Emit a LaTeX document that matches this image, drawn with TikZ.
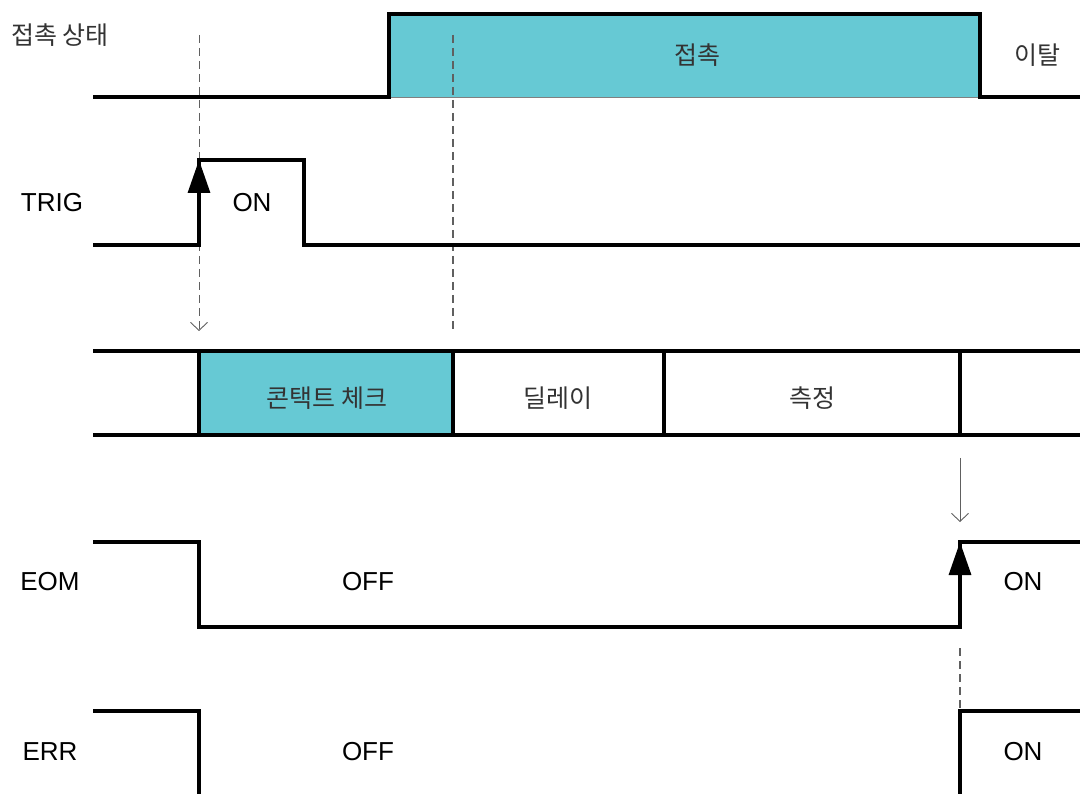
\documentclass[tikz,border=0pt]{standalone}
\usepackage{fontspec}
\setmainfont{Liberation Sans}
\newfontfamily\kor{Noto Sans CJK KR}
\usetikzlibrary{arrows.meta}
\definecolor{contactteal}{RGB}{102,201,212}
\definecolor{labelgray}{RGB}{51,51,51}

\begin{document}
\begin{tikzpicture}[
        x=1pt, y=-1pt,
        sig/.style={line width=3.2pt, line join=miter},
        edgeup/.style={line width=3.2pt, -{Triangle[length=33pt, width=22pt]}},
        guide/.style={gray!75!black, line width=1.1pt, dash pattern=on 8pt off 5pt},
        cue/.style={gray!75!black, line width=0.9pt, -{Straight Barb[length=8pt, width=17pt]}},
        lat/.style={font=\fontsize{26}{26}\selectfont, inner sep=0pt},
        kr/.style={font=\kor\fontsize{25}{25}\selectfont, text=labelgray, inner sep=0pt}
    ]
    \useasboundingbox (0,0) rectangle (1080,794);

    % Contact state: 접촉 window 389-980
    \fill[contactteal] (389,14) rectangle (980,97);
    \draw[gray, line width=0.8pt] (389,97) -- (980,97);
    \draw[sig] (93,97) -- (389,97) -- (389,14) -- (980,14) -- (980,97) -- (1080,97);
    \node[kr] (stateLbl) at (60,35) {접촉 상태};
    \node[kr] (contact) at (697,55) {접촉};
    \node[kr] (release) at (1037,55) {이탈};

    % Guide lines from TRIG rise and end of contact check
    \coordinate (trigTop) at (199,35);
    \coordinate (trigBot) at (199,331);
    \coordinate (chkTop) at (453,35);
    \coordinate (chkBot) at (453,331);
    \draw[guide, cue] (trigTop) -- (trigBot);
    \draw[guide] (chkTop) -- (chkBot);

    % TRIG
    \draw[sig] (93,245) -- (199,245) -- (199,160) -- (304,160) -- (304,245) -- (1080,245);
    \draw[edgeup] (199,245) -- (199,160);
    \node[lat] (trig) at (52,203) {TRIG};
    \node[lat] (trigOn) at (252,203) {ON};

    % Sequence phases
    \fill[contactteal] (199,351) rectangle (453,435);
    \draw[sig] (93,351) -- (1080,351);
    \draw[sig] (93,435) -- (1080,435);
    \foreach \x in {199, 453, 664, 960}
        \draw[sig] (\x,351) -- (\x,435);
    \node[kr] (check) at (327,398) {콘택트 체크};
    \node[kr] (delay) at (558,398) {딜레이};
    \node[kr] (measure) at (812,398) {측정};

    % End of measurement cue
    \coordinate (endTop) at (960,458);
    \coordinate (endBot) at (960,522);
    \draw[cue] (endTop) -- (endBot);

    % EOM
    \draw[sig] (93,542) -- (199,542) -- (199,627) -- (960,627) -- (960,542) -- (1080,542);
    \draw[edgeup] (960,627) -- (960,542);
    \node[lat] (eom) at (50,582) {EOM};
    \node[lat] (eomOff) at (368,582) {OFF};
    \node[lat] (eomOn) at (1023,582) {ON};

    % ERR
    \coordinate (errTop) at (960,648);
    \coordinate (errBot) at (960,708);
    \draw[guide] (errTop) -- (errBot);
    \draw[sig] (93,711) -- (199,711) -- (199,794);
    \draw[sig] (960,794) -- (960,711) -- (1080,711);
    \node[lat] (err) at (50,752) {ERR};
    \node[lat] (errOff) at (368,752) {OFF};
    \node[lat] (errOn) at (1023,752) {ON};

\end{tikzpicture}
\end{document}
